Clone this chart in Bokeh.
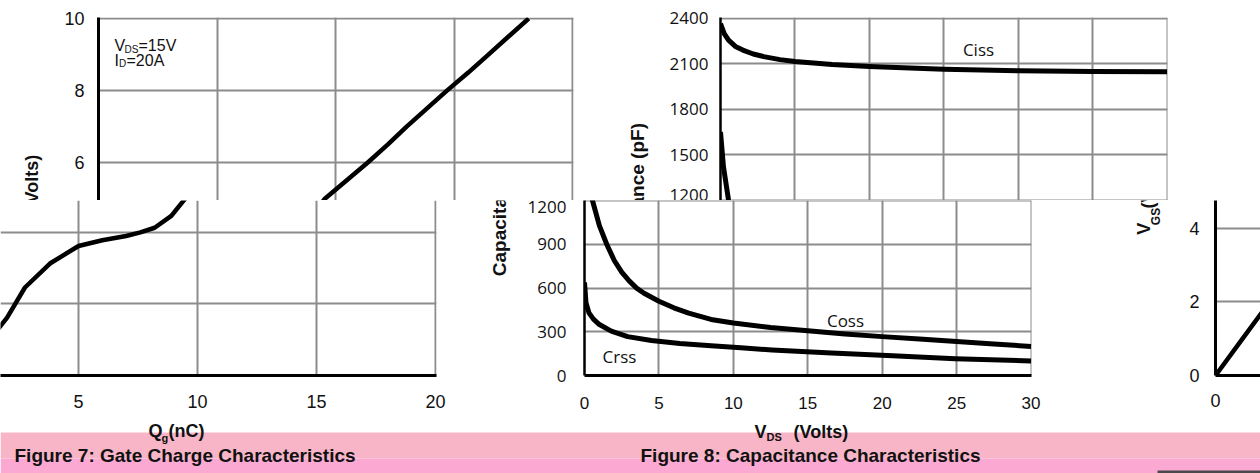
import numpy as np
from bokeh.plotting import figure
from bokeh.layouts import column, row
from bokeh.models import LinearAxis, Grid, FixedTicker, Range1d, Label, BoxAnnotation
from bokeh.embed import file_html
from bokeh.resources import INLINE

# ---------------- data ----------------
# Figure 7: gate charge
gate_charge_nc = [0, 0.5, 1.0, 1.5, 2.0, 2.75, 3.8, 5.0, 6.0, 7.0, 7.6, 8.2, 8.9, 9.55,
                  10.45, 11.35, 12.2, 13.0, 13.85, 14.7, 15.6, 16.45, 17.3, 18.15]
gate_vgs = [0, 0.4, 0.8, 1.2, 1.62, 2.46, 3.13, 3.62, 3.78, 3.9, 4.0, 4.13, 4.46, 5.0,
            5.5, 6.0, 6.5, 7.0, 7.5, 8.0, 8.5, 9.0, 9.5, 10.0]
gate_x_ticks = [0, 5, 10, 15, 20]
gate_y_ticks = [0, 2, 4, 6, 8, 10]

# Figure 8: capacitance
ciss_vds = [0, 0.25, 0.54, 1.0, 1.5, 2.2, 2.9, 4.0, 5.0, 7.5, 10, 15, 20, 25, 30]
ciss_pf = [2365, 2300, 2257, 2215, 2191, 2165, 2148, 2128, 2115, 2095, 2082, 2065, 2055, 2050, 2048]
coss_vds = [0, 0.2, 0.54, 1.0, 1.5, 2.0, 2.5, 3.0, 3.5, 4.0, 5.0, 6.0, 7.0, 8.5, 10, 12.5, 15,
            17.5, 20, 22.5, 25, 27.5, 30]
coss_pf = [1650, 1420, 1200, 1030, 900, 790, 710, 650, 600, 565, 510, 465, 428, 385, 360, 330,
           307, 285, 267, 250, 233, 216, 200]
crss_vds = [0, 0.1, 0.3, 0.6, 1.0, 1.8, 2.9, 4.5, 6.4, 8.5, 10.5, 12.6, 16.6, 20.7, 24.9, 30]
crss_pf = [640, 500, 430, 387, 350, 305, 267, 240, 220, 205, 190, 175, 155, 135, 115, 100]
cap_x_ticks = [0, 5, 10, 15, 20, 25, 30]
cap_y_ticks = [0, 300, 600, 900, 1200, 1500, 1800, 2100, 2400]

# third (cut-off) chart at the right edge
fig9_x = [0, 1.0, 2.0]
fig9_vgs = [0, 0.88, 1.76]
fig9_x_ticks = [0]
fig9_y_ticks = [0, 2, 4]

captions = ["Figure 7: Gate Charge Characteristics", "Figure 8: Capacitance Characteristics"]

# ---------------- styling / helpers ----------------
GRID = "#8c8c8c"
ARIAL = "Liberation Sans"
SEGOE = "Open Sans"
INK = "#111111"
GEOM = {}


def make(name, fig_left, fig_top, width, height, fl, fr, ft, fb, xr, yr):
    p = figure(width=width, height=height, x_range=Range1d(*xr), y_range=Range1d(*yr),
               x_axis_type=None, y_axis_type=None, toolbar_location=None,
               output_backend="svg", min_border=0,
               min_border_left=fl - fig_left, min_border_right=fig_left + width - fr,
               min_border_top=ft - fig_top, min_border_bottom=fig_top + height - fb)
    p.outline_line_color = None
    p.background_fill_color = "white"
    p.border_fill_color = "white"
    GEOM[name] = (fl, fr, ft, fb, xr, yr)
    return p


def at(name, px, py):
    fl, fr, ft, fb, xr, yr = GEOM[name]
    x = xr[0] + (px - fl) / (fr - fl) * (xr[1] - xr[0])
    y = yr[1] - (py - ft) / (fb - ft) * (yr[1] - yr[0])
    return x, y


def add_axis(p, side, ticks, font, size, standoff, width=3):
    ax = LinearAxis(ticker=FixedTicker(ticks=ticks))
    ax.axis_line_color = "black"
    ax.axis_line_width = width
    ax.major_tick_line_color = None
    ax.minor_tick_line_color = None
    ax.major_tick_in = 0
    ax.major_tick_out = 0
    ax.major_label_standoff = standoff
    ax.major_label_text_font = font
    ax.major_label_text_font_size = size
    ax.major_label_text_color = INK
    p.add_layout(ax, side)


def add_grid(p, dim, ticks):
    g = Grid(dimension=dim, ticker=FixedTicker(ticks=ticks),
             grid_line_color=GRID, grid_line_width=2)
    p.add_layout(g, "center")


def label(p, name, px, py, text, font=ARIAL, size="16px", bold=False,
          align="left", baseline="middle"):
    x, y = at(name, px, py)
    p.add_layout(Label(x=x, y=y, text=text, text_font=font, text_font_size=size,
                       text_font_style="bold" if bold else "normal",
                       text_align=align, text_baseline=baseline, text_color=INK))


def text_fig(x0, y0, w, h):
    """A plain panel whose data units are page pixels (y measured downwards)."""
    p = figure(width=w, height=h, x_range=Range1d(x0, x0 + w), y_range=Range1d(-(y0 + h), -y0),
               x_axis_type=None, y_axis_type=None, toolbar_location=None,
               output_backend="svg", min_border=0)
    p.outline_line_color = None
    p.background_fill_color = "white"
    p.border_fill_color = "white"
    return p


def tl(p, px, py, text, size="18px", bold=True, angle=0.0, align="left", font=ARIAL,
       color=INK):
    p.add_layout(Label(x=px, y=-py, text=text, text_font=font, text_font_size=size,
                       text_font_style="bold" if bold else "normal", angle=angle,
                       text_align=align, text_baseline="middle", text_color=color))


ROT = np.pi / 2

# ---------------- top strip ----------------
LA = text_fig(0, 0, 60, 200)
tl(LA, 31, 236, "V", angle=ROT)
tl(LA, 36, 224, "GS", size="12px", angle=ROT)
tl(LA, 31, 150, "(Volts)", angle=ROT, align="right")

A = make("A", 60, 0, 540, 200, 98, 573, 16, 200, (0, 20.04), (4.952, 10.028))
add_grid(A, 0, gate_x_ticks)
add_grid(A, 1, gate_y_ticks)
add_axis(A, "left", gate_y_ticks, ARIAL, "18px", 14)
A.line(gate_charge_nc, gate_vgs, line_width=4.5, color="black", line_join="round")
label(A, "A", 114, 44, "V", size="16px", baseline="alphabetic")
label(A, "A", 124, 48, "DS", size="10px", baseline="alphabetic")
label(A, "A", 138, 44, "=15V", size="16px", baseline="alphabetic")
label(A, "A", 114, 59, "I", size="16px", baseline="alphabetic")
label(A, "A", 118.5, 62, "D", size="10px", baseline="alphabetic")
label(A, "A", 126, 59, "=20A", size="16px", baseline="alphabetic")

LC = text_fig(600, 0, 60, 200)
tl(LC, 637, 199, "Capacitance (pF)", size="19px", angle=ROT, align="center")

C = make("C", 660, 0, 600, 200, 720, 1167, 17, 200, (0, 30.03), (1198, 2406))
add_grid(C, 0, cap_x_ticks)
add_grid(C, 1, cap_y_ticks)
add_axis(C, "left", cap_y_ticks, SEGOE, "17px", 12, width=2.5)
C.line(ciss_vds, ciss_pf, line_width=5, color="black", line_join="round")
C.line(coss_vds, coss_pf, line_width=5, color="black", line_join="round")
C.line(crss_vds, crss_pf, line_width=5, color="black", line_join="round")
label(C, "C", 978, 49, "Ciss", font=SEGOE, size="17px", align="center")

# ---------------- bottom strip ----------------
B = make("B", 0, 200, 470, 220, 0, 436, 200, 381, (1.7227, 20.042), (0, 4.892))
add_grid(B, 0, gate_x_ticks)
add_grid(B, 1, gate_y_ticks)
add_axis(B, "below", gate_x_ticks, ARIAL, "18px", 19)
B.line(gate_charge_nc, gate_vgs, line_width=4.5, color="black", line_join="round")

LD = text_fig(470, 200, 45, 220)
tl(LD, 499, 199, "Capacitance (pF)", size="19px", angle=ROT, align="center")

D = make("D", 515, 200, 615, 220, 584, 1031, 200, 380, (0, 30.03), (0, 1202))
add_grid(D, 0, cap_x_ticks)
add_grid(D, 1, cap_y_ticks)
add_axis(D, "left", cap_y_ticks, SEGOE, "17px", 18, width=2.5)
add_axis(D, "below", cap_x_ticks, ARIAL, "17px", 21)
D.line(coss_vds, coss_pf, line_width=5, color="black", line_join="round")
D.line(crss_vds, crss_pf, line_width=5, color="black", line_join="round")
label(D, "D", 845, 323, "Coss", font=SEGOE, size="17px", align="center")
label(D, "D", 619, 360, "Crss", font=SEGOE, size="17px", align="center")

LE = text_fig(1130, 200, 40, 220)
tl(LE, 1143, 243, "V", angle=ROT)
tl(LE, 1155, 231, "GS", size="12px", angle=ROT)
tl(LE, 1147, 210, "(Volts)", angle=ROT)

E = make("E", 1170, 200, 90, 220, 1215, 1260, 200, 375, (0, 1.891), (0, 4.755))
add_grid(E, 1, fig9_y_ticks)
add_axis(E, "left", fig9_y_ticks, ARIAL, "18px", 16)
add_axis(E, "below", fig9_x_ticks, ARIAL, "18px", 18)
E.line(fig9_x, fig9_vgs, line_width=4.5, color="black")

# ---------------- caption band ----------------
band = text_fig(0, 420, 1260, 53)
band.add_layout(BoxAnnotation(left=0, right=1260, bottom=-458, top=-432, fill_color="#f8b5c7",
                              fill_alpha=1, line_color=None))
band.add_layout(BoxAnnotation(left=0, right=1260, bottom=-473, top=-458, fill_color="#fba9d2",
                              fill_alpha=1, line_color=None))
band.add_layout(BoxAnnotation(left=1157, right=1260, bottom=-473, top=-470, fill_color="#4a4a4a",
                              fill_alpha=1, line_color=None))
tl(band, 148, 430, "Q")
tl(band, 161, 437, "g", size="11px")
tl(band, 168, 430, "(nC)")
tl(band, 754, 431, "V")
tl(band, 766, 436, "DS", size="11px")
tl(band, 793, 431, "(Volts)")
tl(band, 14, 455, captions[0], size="19px")
tl(band, 640, 455, captions[1], size="19px")

layout = column(row(LA, A, LC, C), row(B, LD, D, LE, E), band)
open("out.html", "w").write(file_html(layout, INLINE))
